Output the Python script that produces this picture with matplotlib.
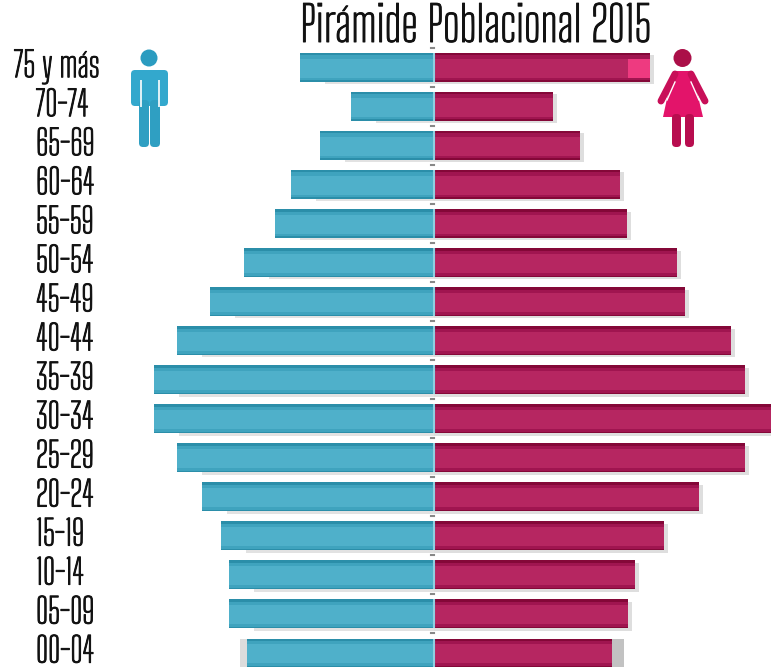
import matplotlib
matplotlib.use("Agg")
import matplotlib.pyplot as plt
import matplotlib.patheffects as pe
from matplotlib.patches import Circle, FancyBboxPatch, Polygon
import numpy as np

W, H = 771, 667
groups = ["75 y más", "70-74", "65-69", "60-64", "55-59", "50-54", "45-49", "40-44",
          "35-39", "30-34", "25-29", "20-24", "15-19", "10-14", "05-09", "00-04"]
# bar lengths (no scale is printed, so pixel-like units)
hombres = [134, 83, 114, 143, 159, 190, 224, 257, 280, 280, 257, 232, 213, 205, 205, 187]
mujeres = [216, 119, 146, 186, 193, 243, 251, 297, 311, 337, 311, 265, 230, 201, 194, 178]
# ghost ends of the bottom bars
extra_m = [0, 0, 0, 0, 0, 0, 0, 0, 0, 0, 0, 0, 0, 0, 0, 7]
extra_f = [0, 0, 0, 0, 0, 0, 0, 0, 0, 0, 0, 0, 0, 0, 0, 12]
tip_f = 22  # lighter part at the end of the 75+ bar

BLUE, BLUE_M, BLUE_D = "#4fb0ca", "#3fa3be", "#2b8ea9"
WINE, WINE_M, WINE_D = "#b62661", "#a01550", "#840838"

plt.rcParams["font.family"] = ["Big Shoulders Text", "DejaVu Sans"]
fig = plt.figure(figsize=(W / 100, H / 100), dpi=100)
ax = fig.add_axes([0, 0, 1, 1])
ax.set_xlim(-434, 337)
# one row is 39 px; row 0 is centred at y=67.5
ax.set_ylim((H - 67.5) / 39.03, -67.5 / 39.03)
ax.axis("off")

y = np.arange(len(groups))
h = 0.74

# soft shadow, then ghost ends
ax.barh(y + 0.06, -np.array(hombres) + 25, h, color="#cfcfcf", alpha=.6, zorder=1)
ax.barh(y + 0.06, np.array(mujeres) + 4, h, color="#c8c8c8", alpha=.6, zorder=1)
ax.barh(y, -(np.array(hombres) + extra_m), h, color="#dcdcdc", zorder=1.5)
ax.barh(y, np.array(mujeres) + extra_f, h, color="#c2c2c2", zorder=1.5)

ax.barh(y, [-v for v in hombres], h, color=BLUE, zorder=2)
ax.barh(y, mujeres, h, color=WINE, zorder=2)
ax.barh(y[0], tip_f, h, left=mujeres[0] - tip_f, color="#ee3a80", zorder=2.1)

# darker bands along the bar edges, to fake the glossy look
for off, th, cb, cw in ((-h / 2 + 0.07, 0.14, BLUE_M, WINE_M), (h / 2 - 0.05, 0.10, BLUE_M, WINE_M),
                        (-h / 2 + 0.03, 0.06, BLUE_D, WINE_D), (h / 2 - 0.02, 0.04, BLUE_D, WINE_D)):
    ax.barh(y + off, [-v for v in hombres], th, color=cb, zorder=3)
    ax.barh(y + off, mujeres, th, color=cw, zorder=3)

ax.vlines([0] * len(y), y - h / 2, y + h / 2, color="#8fcfe0", lw=1.5, zorder=4)
for yi in y - 0.5:
    ax.plot([-3, 0], [yi, yi], color="#888888", lw=1.5, zorder=4)

# the reference face is a bit heavier than this one
heavy = [pe.withStroke(linewidth=0.7, foreground="#111111")]
for i, g in enumerate(groups):
    ax.text(-434 + (14 if i == 0 else 36), i - 0.02, g, fontsize=25, color="#111111",
            ha="left", va="center", zorder=5, path_effects=heavy)
fig.text(300 / W, 1 - 42 / H, "Pirámide Poblacional 2015", fontsize=35, color="#111111",
         ha="left", va="baseline", path_effects=heavy)

# icons, in figure pixels
ic = fig.add_axes([0, 0, 1, 1], facecolor="none")
ic.set_xlim(0, W); ic.set_ylim(H, 0); ic.axis("off")


def rbox(x0, y0, x1, y1, c, r=3):
    ic.add_patch(FancyBboxPatch((x0 + r, y0 + r), x1 - x0 - 2 * r, y1 - y0 - 2 * r,
                                boxstyle=f"round,pad={r}", fc=c, ec="none"))


man = "#33a8cd"
ic.add_patch(Circle((149, 58), 8.5, fc="#2b9cc0", ec="none"))
rbox(131, 70, 168, 106, man, 4)
rbox(139, 100, 149, 147, "#2f9fc2", 4)
rbox(150, 100, 160, 147, "#2f9fc2", 4)
ic.vlines([140.5, 158.5], 80, 107, color="white", lw=1.2)

wom = "#e3146a"
ic.add_patch(Circle((682.5, 58), 9, fc="#ab0f48", ec="none"))
ic.plot([675, 661], [74, 101], color="#c80f58", lw=5, solid_capstyle="round")
ic.plot([691, 705], [74, 101], color="#c80f58", lw=5, solid_capstyle="round")
ic.add_patch(Polygon([[673, 71], [692, 71], [703, 117], [663, 117]], fc=wom, ec="none"))
ic.plot([675, 667], [82, 100], color="white", lw=1)
ic.plot([691, 699], [82, 100], color="white", lw=1)
rbox(672, 114, 681, 147, "#b80d4f", 4)
rbox(685, 114, 694, 147, "#b80d4f", 4)

fig.savefig("out.png", dpi=100)
